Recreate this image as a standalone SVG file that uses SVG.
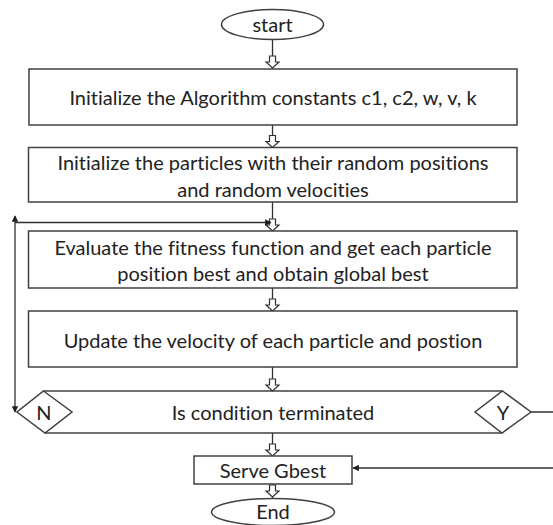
<svg xmlns="http://www.w3.org/2000/svg" width="553" height="525" viewBox="0 0 553 525">
<defs>
<style>
.box{fill:#fff;stroke:#404040;stroke-width:1.5}
.ln{fill:none;stroke:#303030;stroke-width:1.3}
.ha{fill:#fff;stroke:#303030;stroke-width:1.2}
.t{font-family:Lato,"Liberation Sans",sans-serif;font-size:20px;fill:#222;text-anchor:middle;dominant-baseline:central;font-variant-ligatures:none}
</style>
<marker id="ah" viewBox="0 0 10 10" refX="9" refY="5" markerWidth="5" markerHeight="5" orient="auto">
<path d="M0,0 L10,5 L0,10 z" fill="#202020"/>
</marker>
<path id="hollow" d="M-3,0 L3,0 L3,6 L6.5,6 L0,12 L-6.5,6 L-3,6 Z"/>
</defs>
<g id="connectors">
<line class="ln" x1="272.5" y1="40" x2="272.5" y2="56"/>
<use href="#hollow" class="ha" x="272.5" y="56"/>
<line class="ln" x1="272.5" y1="125" x2="272.5" y2="135"/>
<use href="#hollow" class="ha" x="272.5" y="135.5"/>
<line class="ln" x1="272.5" y1="202" x2="272.5" y2="219"/>
<use href="#hollow" class="ha" x="272.5" y="219"/>
<line class="ln" x1="272.5" y1="288" x2="272.5" y2="299"/>
<use href="#hollow" class="ha" x="272.5" y="299"/>
<line class="ln" x1="272.5" y1="367" x2="272.5" y2="379"/>
<use href="#hollow" class="ha" x="272.5" y="379"/>
<line class="ln" x1="272.5" y1="433" x2="272.5" y2="444"/>
<use href="#hollow" class="ha" x="272.5" y="444"/>
<line class="ln" x1="272.5" y1="484" x2="272.5" y2="503"/>
<use href="#hollow" class="ha" x="272.5" y="485"/>
<line class="ln" x1="15" y1="222.5" x2="15" y2="216" marker-end="url(#ah)"/>
<line class="ln" x1="15" y1="222.5" x2="15" y2="412" marker-end="url(#ah)"/>
<line class="ln" x1="15" y1="222.5" x2="271" y2="222.5" marker-end="url(#ah)"/>
<polyline class="ln" points="531,412 556,412 556,468 353,468" marker-end="url(#ah)"/>
</g>
<g id="start">
<ellipse class="box" cx="272.5" cy="24.5" rx="51" ry="15"/>
<text class="t" x="272.5" y="24">start</text>
</g>
<g id="init-constants">
<rect class="box" x="29" y="69" width="488" height="56"/>
<text class="t" x="273" y="97">Initialize the Algorithm constants c1, c2, w, v, k</text>
</g>
<g id="init-particles">
<rect class="box" x="28.5" y="147.5" width="488.5" height="54.5"/>
<text class="t" x="273" y="162">Initialize the particles with their random positions</text>
<text class="t" x="273" y="188.5">and random velocities</text>
</g>
<g id="evaluate">
<rect class="box" x="28.5" y="231" width="488.5" height="57"/>
<text class="t" x="273" y="246.5">Evaluate the fitness function and get each particle</text>
<text class="t" x="273" y="273">position best and obtain global best</text>
</g>
<g id="update">
<rect class="box" x="28.5" y="311" width="488.5" height="56"/>
<text class="t" x="273" y="340">Update the velocity of each particle and postion</text>
</g>
<g id="decision">
<line class="box" x1="43.5" y1="391" x2="502.5" y2="391"/>
<line class="box" x1="45" y1="433" x2="502" y2="433"/>
<polygon class="box" points="43.5,391 72,412 45,433 17,412"/>
<polygon class="box" points="502.5,391 531,412 502,433 475,412"/>
<text class="t" x="44" y="412">N</text>
<text class="t" x="273" y="412">Is condition terminated</text>
<text class="t" x="503" y="412">Y</text>
</g>
<g id="serve-gbest">
<rect class="box" x="194" y="456" width="158" height="28"/>
<text class="t" x="273" y="470">Serve Gbest</text>
</g>
<g id="end">
<ellipse class="box" cx="273" cy="512" rx="61.5" ry="13.5"/>
<text class="t" x="273" y="511">End</text>
</g>
</svg>
